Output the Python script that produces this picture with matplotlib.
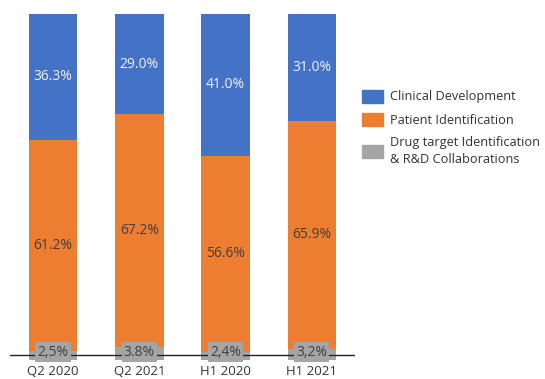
import matplotlib
matplotlib.use("Agg")
import matplotlib.pyplot as plt
from matplotlib.patches import Patch

plt.rcParams['font.family'] = ['Open Sans', 'DejaVu Sans']

categories = ["Q2 2020", "Q2 2021", "H1 2020", "H1 2021"]
drug_target = [2.5, 3.8, 2.4, 3.2]
patient_id = [61.2, 67.2, 56.6, 65.9]
clinical_dev = [36.3, 29.0, 41.0, 31.0]
drug_labels = ["2,5%", "3.8%", "2,4%", "3,2%"]
patient_labels = ["61.2%", "67.2%", "56.6%", "65.9%"]
clinical_labels = ["36.3%", "29.0%", "41.0%", "31.0%"]

series_names = ["Clinical Development", "Patient Identification",
                "Drug target Identification\n& R&D Collaborations"]
c_blue, c_orange, c_gray = "#4472C4", "#ED7D31", "#A5A5A5"

W, H = 545, 379
fig = plt.figure(figsize=(W / 100, H / 100), dpi=100)
ax = fig.add_axes([10 / W, (H - 360) / H, 345 / W, 346 / H])

x = list(range(len(categories)))
width = 0.56
fs = 10
ax.bar(x, drug_target, width, color=c_gray)
bottom2 = drug_target
ax.bar(x, patient_id, width, bottom=bottom2, color=c_orange)
bottom3 = [a + b for a, b in zip(drug_target, patient_id)]
ax.bar(x, clinical_dev, width, bottom=bottom3, color=c_blue)

ax.set_xlim(-0.5, len(categories) - 0.5)
ax.set_ylim(0, 100)

# baseline drawn slightly above zero
ax.axhline(1.45, color="#222222", lw=1.0, zorder=3)

for i in x:
    ax.text(i, bottom2[i] + patient_id[i] / 2, patient_labels[i], ha="center",
            va="center", fontsize=fs, color="#404040")
    ax.text(i, bottom3[i] + clinical_dev[i] / 2, clinical_labels[i], ha="center",
            va="center", fontsize=fs, color="#F2F2F2")
    ax.text(i, 2.3, drug_labels[i], ha="center", va="center", fontsize=fs,
            color="#404040", zorder=4,
            bbox=dict(boxstyle="square,pad=0.15", fc=c_gray, ec="none"))

for s in ax.spines.values():
    s.set_visible(False)
ax.set_yticks([])
ax.set_xticks(x)
ax.set_xticklabels(categories, fontsize=9.5, color="#333333")
ax.tick_params(axis="x", length=0, pad=3.5)

handles = [Patch(color=c_blue), Patch(color=c_orange), Patch(color=c_gray)]
leg = fig.legend(handles, series_names, loc="upper left",
                 bbox_to_anchor=(350 / W, 1 - 78 / H), frameon=False,
                 fontsize=9.2, handlelength=1.7, handleheight=1.2,
                 handletextpad=0.55, labelspacing=0.75, labelcolor="#333333")
leg.get_texts()[2].set_linespacing(1.35)

fig.savefig("out.png", dpi=100)
